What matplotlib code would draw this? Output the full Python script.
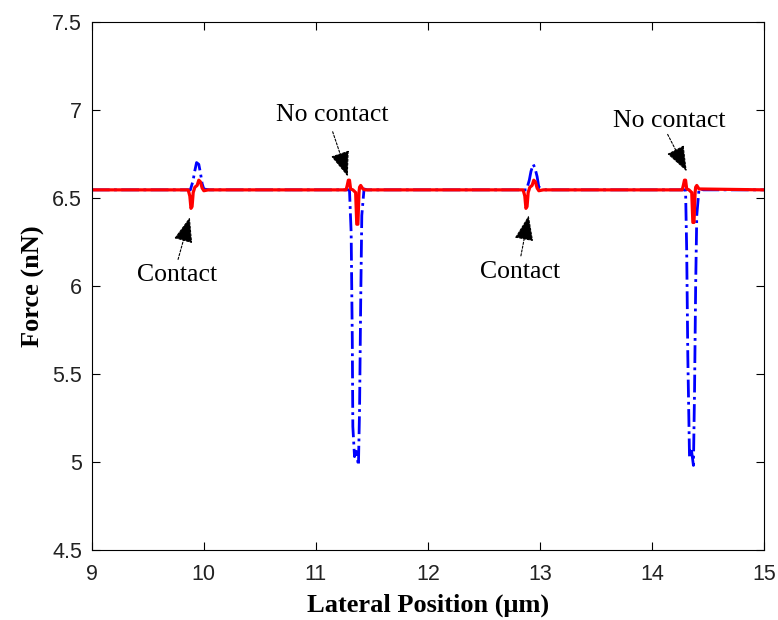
import matplotlib.pyplot as plt

# Probe force along the scan line (nN) vs lateral position (um)
# blue: measured deflection trace (dash-dot), red: controlled force (solid)
blue_x = [9.00, 9.88, 9.905, 9.915, 9.935, 9.955, 9.97, 9.985, 10.00, 10.05,
          11.30, 11.315, 11.325, 11.33, 11.345, 11.36, 11.38, 11.39, 11.40, 11.41, 11.43, 11.46,
          12.88, 12.905, 12.92, 12.94, 12.955, 12.975, 12.99, 13.05,
          14.30, 14.31, 14.32, 14.335, 14.35, 14.37, 14.38, 14.39, 14.40, 14.42, 14.46, 15.00]
blue_y = [6.545, 6.545, 6.60, 6.64, 6.70, 6.69, 6.64, 6.58, 6.55, 6.545,
          6.545, 6.30, 5.70, 5.20, 5.03, 5.06, 4.98, 5.30, 5.90, 6.40, 6.55, 6.545,
          6.545, 6.60, 6.65, 6.69, 6.67, 6.62, 6.56, 6.545,
          6.545, 6.20, 5.60, 5.03, 5.08, 4.98, 5.40, 6.00, 6.40, 6.55, 6.545, 6.545]

red_x = [9.00, 9.86, 9.875, 9.885, 9.895, 9.905, 9.92, 9.94, 9.955, 9.97, 9.985, 10.00, 10.04,
         11.27, 11.28, 11.29, 11.30, 11.31, 11.33, 11.355, 11.365, 11.375, 11.385, 11.39, 11.40, 11.42, 11.44,
         12.85, 12.865, 12.875, 12.885, 12.895, 12.91, 12.93, 12.945, 12.96, 12.975, 12.99, 13.03,
         14.27, 14.28, 14.29, 14.30, 14.31, 14.33, 14.355, 14.365, 14.375, 14.385, 14.39, 14.40, 14.42, 15.00]
red_y = [6.545, 6.545, 6.51, 6.44, 6.45, 6.53, 6.56, 6.57, 6.60, 6.59, 6.555, 6.54, 6.545,
         6.545, 6.57, 6.60, 6.60, 6.55, 6.545, 6.53, 6.35, 6.35, 6.53, 6.56, 6.57, 6.55, 6.545,
         6.545, 6.51, 6.44, 6.45, 6.53, 6.56, 6.57, 6.60, 6.59, 6.555, 6.54, 6.545,
         6.545, 6.57, 6.60, 6.60, 6.55, 6.545, 6.53, 6.36, 6.36, 6.53, 6.56, 6.57, 6.55, 6.545]

# annotation labels: text, text centre, arrow tail, arrow tip
labels = ["Contact", "No contact", "Contact", "No contact"]
label_xy = [(9.76, 6.06), (11.15, 6.97), (12.82, 6.08), (14.15, 6.935)]
tail_xy = [(9.77, 6.15), (11.15, 6.875), (12.83, 6.17), (14.14, 6.86)]
tip_xy = [(9.875, 6.39), (11.285, 6.62), (12.90, 6.40), (14.31, 6.65)]

fig = plt.figure(figsize=(7.78, 6.20), dpi=100)
ax = fig.add_axes([0.118, 0.113, 0.864, 0.852])

ax.plot(blue_x, blue_y, color="blue", linestyle="-.", linewidth=2)
ax.plot(red_x, red_y, color="red", linestyle="-", linewidth=2.3)

for txt, (tx, ty), (ax0, ay0), (px, py) in zip(labels, label_xy, tail_xy, tip_xy):
    ax.text(tx, ty, txt, ha="center", va="center", fontsize=18.5,
            family="Liberation Serif")
    ax.annotate("", xy=(px, py), xytext=(ax0, ay0),
                arrowprops=dict(arrowstyle="-|>,head_length=0.8,head_width=0.3",
                                linestyle=(0, (2, 1.5)), color="black", lw=0.8,
                                mutation_scale=20, shrinkA=0, shrinkB=0))

ax.set_xlim(9, 15)
ax.set_ylim(4.5, 7.5)
ax.set_xticks([9, 10, 11, 12, 13, 14, 15])
ax.set_yticks([4.5, 5, 5.5, 6, 6.5, 7, 7.5])
ax.set_yticklabels(["4.5", "5", "5.5", "6", "6.5", "7", "7.5"])
ax.tick_params(direction="in", top=True, right=True, length=6, labelsize=15.5)
ax.tick_params(axis="x", pad=10)
ax.tick_params(axis="y", pad=7)
for lbl in ax.get_xticklabels() + ax.get_yticklabels():
    lbl.set_family("Liberation Sans")
    lbl.set_color("#222222")

ax.set_xlabel("Lateral Position (\u03bcm)", fontsize=19, fontweight="bold",
              family="Liberation Serif", labelpad=6)
ax.set_ylabel("Force (nN)", fontsize=19, fontweight="bold",
              family="Liberation Serif", labelpad=5)

fig.savefig("out.png", dpi=100)
